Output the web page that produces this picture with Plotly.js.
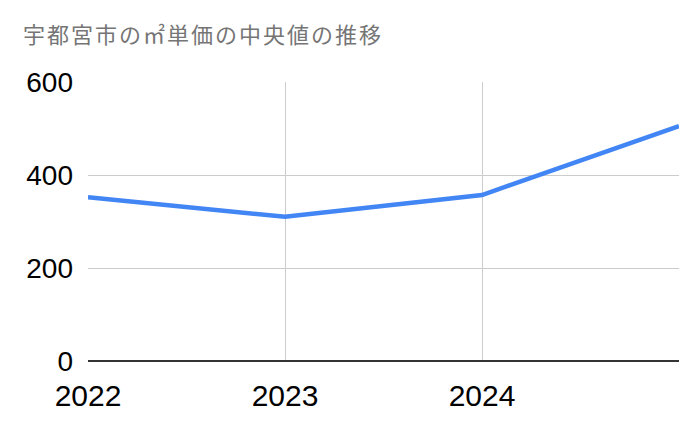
<!DOCTYPE html>
<html>
<head>
<meta charset="utf-8">
<script src="https://cdn.plot.ly/plotly-3.0.1.min.js"></script>
<style>
html,body{margin:0;padding:0;background:#fff;}
#chart{width:700px;height:433px;}
.gtitle{letter-spacing:2px;}
</style>
</head>
<body>
<div id="chart"></div>
<script>
const years = [2022, 2023, 2024, 2025];
const medianPrice = [352, 310, 357, 505];
const xTickVals = [2022, 2023, 2024, 2025];
const xTickText = ['2022', '2023', '2024', ''];
const yTickVals = [0, 200, 400, 600];
const titleText = '宇都宮市の㎡単価の中央値の推移';

const trace = {
  x: years,
  y: medianPrice,
  type: 'scatter',
  mode: 'lines',
  line: {color: '#4285F4', width: 4.5},
  hoverinfo: 'skip'
};

const layout = {
  width: 700,
  height: 433,
  margin: {l: 88, r: 21, t: 81.5, b: 71.5},
  paper_bgcolor: '#ffffff',
  plot_bgcolor: '#ffffff',
  showlegend: false,
  title: {
    text: titleText,
    xref: 'container', yref: 'container',
    x: 23/700, xanchor: 'left',
    y: 1 - 35/433, yanchor: 'middle',
    font: {family: '"Noto Sans CJK JP", sans-serif', size: 22, color: '#757575'}
  },
  xaxis: {
    range: [2022, 2025],
    tickvals: xTickVals,
    ticktext: xTickText,
    showgrid: true,
    gridcolor: '#cccccc',
    gridwidth: 1,
    zeroline: false,
    showline: false,
    ticks: '',
    ticklabelstandoff: 14,
    tickfont: {family: '"Liberation Sans", Arial, sans-serif', size: 30, color: '#000000'}
  },
  yaxis: {
    range: [0, 600],
    tickvals: yTickVals,
    showgrid: true,
    gridcolor: '#cccccc',
    gridwidth: 1,
    zeroline: true,
    zerolinecolor: '#333333',
    zerolinewidth: 1.5,
    showline: false,
    ticks: '',
    ticklabelstandoff: 14,
    tickfont: {family: '"Liberation Sans", Arial, sans-serif', size: 28, color: '#000000'}
  }
};

Plotly.newPlot('chart', [trace], layout, {displayModeBar: false, staticPlot: true});
</script>
</body>
</html>
